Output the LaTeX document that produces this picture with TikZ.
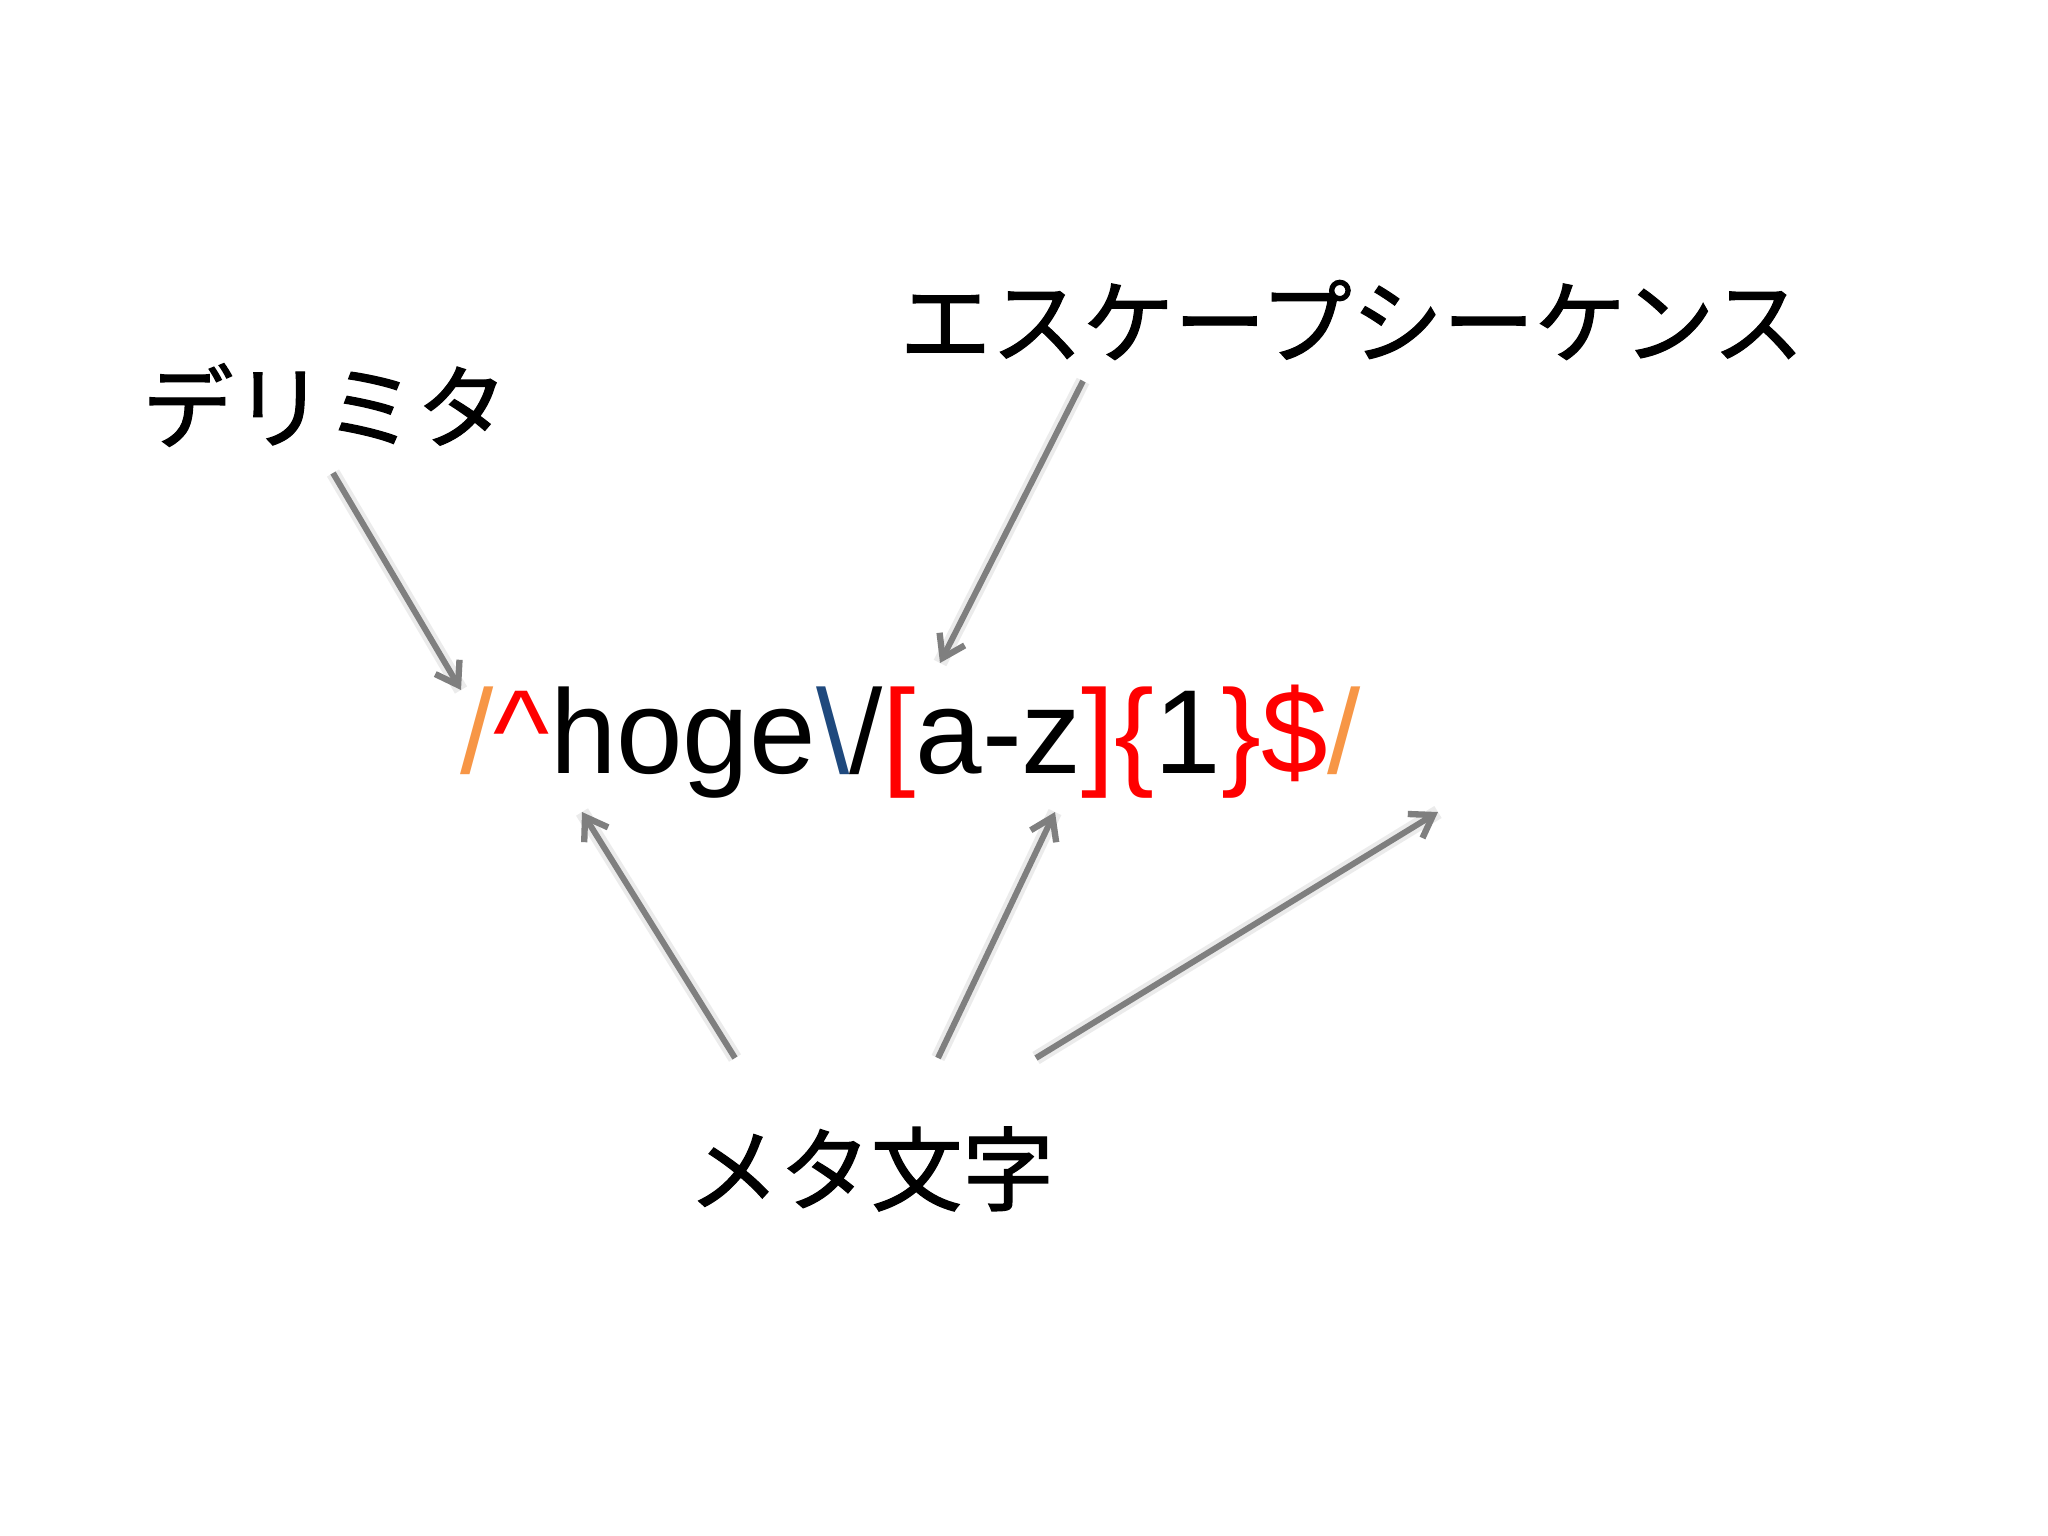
\documentclass[tikz,border=0pt]{standalone}
\usepackage{fontspec}
\setmainfont{Liberation Sans}
\newfontfamily\jpfont[FakeBold=1.3]{Noto Sans CJK JP}
\usepackage{tikz}
\usetikzlibrary{arrows.meta}
\definecolor{delimorange}{HTML}{F79646}
\definecolor{escblue}{HTML}{1F497D}
\definecolor{metared}{HTML}{FF0000}
\definecolor{pointgray}{HTML}{7F7F7F}

\begin{document}
\begin{tikzpicture}[x=0.01cm,y=-0.01cm,
  label/.style={font=\jpfont\fontsize{26}{30}\selectfont, inner sep=0pt},
  pointer/.style={draw=pointgray, line width=1.7pt, -{Straight Barb[length=6pt,width=8pt,line width=1.8pt]}},
  pointershadow/.style={draw=black, opacity=0.08, line width=4pt, shift={(3,5)}}]
% Fix the page size
\useasboundingbox[fill=white] (0,0) rectangle (2048,1536);
% The regular expression
\node[anchor=base west, inner sep=0pt, font=\fontsize{34}{40}\selectfont] (regex) at (460,773)
  {\textcolor{delimorange}{/}\textcolor{metared}{\textasciicircum}hoge\textcolor{escblue}{\textbackslash}/\textcolor{metared}{[}a-z\textcolor{metared}{]}\textcolor{metared}{\{}1\textcolor{metared}{\}}\textcolor{metared}{\$}\textcolor{delimorange}{/}};
% The three labels
\node[label] (delim) at (325,405) {デリミタ};
\node[label] (escape) at (1352,320) {エスケープシーケンス};
\node[label] (meta) at (871,1169) {メタ文字};
% Ends of the arrows
\coordinate (delimfrom) at (333,473);
\coordinate (delimto) at (461,690);
\coordinate (escfrom) at (1083,381);
\coordinate (escto) at (940,663);
\coordinate (metafromA) at (735,1058);
\coordinate (metatoA) at (582,812);
\coordinate (metafromB) at (938,1058);
\coordinate (metatoB) at (1055,812);
\coordinate (metafromC) at (1036,1058);
\coordinate (metatoC) at (1438,812);
% Soft shadows, then the arrows
\foreach \a/\b in {delimfrom/delimto, escfrom/escto, metafromA/metatoA, metafromB/metatoB, metafromC/metatoC}
  \draw[pointershadow] (\a) -- (\b);
\draw[pointer] (delimfrom) -- (delimto);
\draw[pointer] (escfrom) -- (escto);
\foreach \i in {A,B,C}
  \draw[pointer] (metafrom\i) -- (metato\i);
\end{tikzpicture}
\end{document}
